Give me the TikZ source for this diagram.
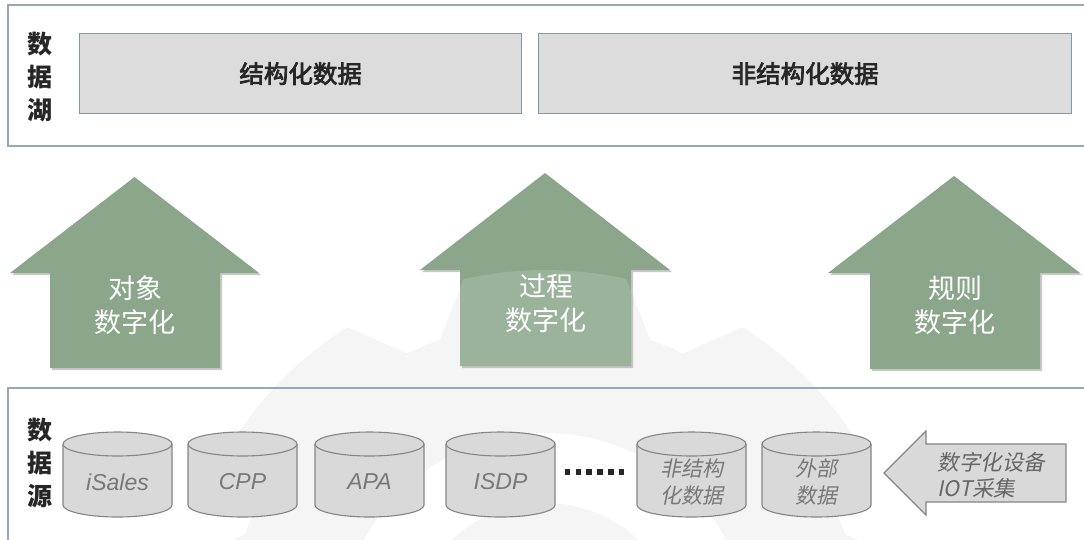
\documentclass[tikz,border=0pt]{standalone}
\usepackage{fontspec}
\usetikzlibrary{shadows}
\newfontfamily\cjk{Noto Sans CJK SC}
\newfontfamily\cjkmed{Noto Sans CJK SC}[FakeBold=3]
\newfontfamily\cjkit{Noto Sans CJK SC}[FakeSlant=0.2]
\newfontfamily\latit{Liberation Sans}[ItalicFont=Liberation Sans Italic]
\definecolor{arrowgreen}{HTML}{8BA68A}
\definecolor{frameline}{HTML}{98A7B7}
\definecolor{boxfill}{HTML}{DCDCDC}
\definecolor{boxline}{HTML}{8797A8}
\definecolor{cylfill}{HTML}{D9D9D9}
\definecolor{cylline}{HTML}{858585}
\definecolor{cyltext}{HTML}{787878}
\definecolor{gearfill}{HTML}{F5F5F5}
\newcommand{\mygear}{%
  (77.3:370) \foreach \k in {0,...,7}{
    arc[start angle={77.3+45*\k}, end angle={102.7+45*\k}, radius=370]
    -- ({109.3+45*\k}:318)
    arc[start angle={109.3+45*\k}, end angle={115.7+45*\k}, radius=318]
    -- ({122.3+45*\k}:370)} -- cycle}
\newcommand{\mycyl}[2]{% left x, name
  \fill[cylfill] (#1,444) -- (#1,505) arc[start angle=180, end angle=0, x radius=54.5, y radius=12]
     -- (#1+109,444) arc[start angle=0, end angle=-180, x radius=54.5, y radius=12] -- cycle;
  \draw[cylline, line width=1.1pt] (#1,444) -- (#1,505) arc[start angle=180, end angle=0, x radius=54.5, y radius=12]
     -- (#1+109,444) arc[start angle=0, end angle=-180, x radius=54.5, y radius=12];
  \draw[cylline, line width=1.1pt] (#1,444) arc[start angle=180, end angle=0, x radius=54.5, y radius=12];
  \coordinate (#2) at (#1+54.5,482);
}
\tikzset{
  frame/.style={draw=frameline, line width=1.6pt},
  databox/.style={draw=boxline, fill=boxfill, line width=1.3pt},
  boxtext/.style={font=\cjkmed\fontsize{24.5}{28}\selectfont, text=black!85},
  sidetext/.style={font=\cjk\bfseries\fontsize{25}{33}\selectfont, align=center, text=black!85},
  greenarrow/.style={fill=arrowgreen, drop shadow={shadow xshift=2pt, shadow yshift=-2pt, opacity=0.35, fill=black!60}},
  arrowtext/.style={font=\cjk\fontsize{27}{34}\selectfont, text=white, align=center},
  cyllatin/.style={font=\latit\itshape\fontsize{23}{28}\selectfont, text=cyltext},
  cylcjk/.style={font=\cjkit\fontsize{21}{27}\selectfont, text=cyltext, align=center},
  iotarrow/.style={fill=cylfill, draw=cylline, line width=1.1pt},
  iottext/.style={font=\cjkit\fontsize{21.5}{26}\selectfont, text=black!60, align=left}
}
\begin{document}
\begin{tikzpicture}[x=1pt,y=-1pt]
\useasboundingbox (0,0) rectangle (1084,539);
\fill[white] (0,0) rectangle (1084,539);
% watermark gear
\begin{scope}
  \clip (0,0) rectangle (1084,539);
  \begin{scope}[shift={(545,640)}]
    \fill[gearfill] \mygear;
    \fill[white] (0,0) circle[radius=207];
    \fill[gearfill] (0,0) circle[radius=137];
  \end{scope}
\end{scope}
% top frame
\draw[frame] (1095,5) -- (8,5) -- (8,146) -- (1095,146);
\node[sidetext] (lake) at (40,77) {数\\据\\湖};
\node[databox, minimum width=442, minimum height=80, anchor=north west] (struct) at (79,33) {};
\node[boxtext] at (struct.center) {结构化数据};
\node[databox, minimum width=533, minimum height=80, anchor=north west] (unstruct) at (538,33) {};
\node[boxtext] at (unstruct.center) {非结构化数据};
% arrows
\fill[greenarrow] (134.5,177) -- (259,273) -- (220,273) -- (220,368) -- (50,368) -- (50,273) -- (10,273) -- cycle;
\fill[greenarrow] (545,173) -- (670,270) -- (631,270) -- (631,366) -- (460,366) -- (460,270) -- (420,270) -- cycle;
\begin{scope}
  \clip (545,173) -- (670,270) -- (631,270) -- (631,366) -- (460,366) -- (460,270) -- (420,270) -- cycle;
  \begin{scope}[shift={(545,640)}]
    \fill[white, opacity=0.15] \mygear;
  \end{scope}
\end{scope}
\fill[greenarrow] (954,176) -- (1080,273) -- (1040,273) -- (1040,369) -- (870,369) -- (870,273) -- (828,273) -- cycle;
\node[arrowtext] (obj) at (135,305) {对象\\数字化};
\node[arrowtext] (proc) at (546,303) {过程\\数字化};
\node[arrowtext] (rule) at (955,305) {规则\\数字化};
% bottom frame
\draw[frame] (1095,388) -- (8,388) -- (8,545);
\node[sidetext] (src) at (40,463) {数\\据\\源};
\mycyl{63}{c1}
\mycyl{188}{c2}
\mycyl{315}{c3}
\mycyl{446}{c4}
\mycyl{637}{c5}
\mycyl{762}{c6}
\node[cyllatin] (isales) at (c1) {iSales};
\node[cyllatin] (cpp) at (c2) {CPP};
\node[cyllatin] (apa) at (c3) {APA};
\node[cyllatin] (isdp) at (c4) {ISDP};
\node[cylcjk] (unst) at (c5) {非结构\\化数据};
\node[cylcjk] (ext) at (c6) {外部\\数据};
\node[inner sep=0, minimum width=62, minimum height=5] (dots) at (597,472) {};
\foreach \i in {0,...,5}{\fill[black!85] ([xshift={-29.5+10.8*\i}]dots.center) ++(-2.8,-2.8) rectangle ++(5.6,5.6);}
% IOT arrow
\draw[iotarrow] (884,473) -- (926,431) -- (926,444) -- (1066,444) -- (1066,502) -- (926,502) -- (926,515) -- cycle;
\node[iottext, anchor=west] (iot) at (934,475) {数字化设备\\IOT采集};
\end{tikzpicture}
\end{document}
